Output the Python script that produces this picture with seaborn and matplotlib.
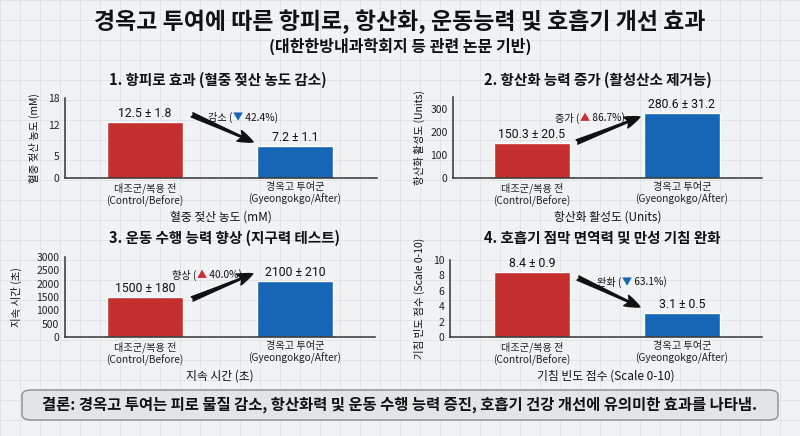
import numpy as np
import pandas as pd
import matplotlib
matplotlib.use("Agg")
import matplotlib.pyplot as plt
import seaborn as sns
from matplotlib.patches import FancyArrowPatch, FancyBboxPatch
from matplotlib.offsetbox import TextArea, HPacker, AnnotationBbox

# data
groups = ["대조군/복용 전\n(Control/Before)", "경옥고 투여군\n(Gyeongokgo/After)"]
lactate_mean = [12.5, 7.2]
lactate_sd = [1.8, 1.1]
antiox_mean = [150.3, 280.6]
antiox_sd = [20.5, 31.2]
endurance_mean = [1500, 2100]
endurance_sd = [180, 210]
cough_mean = [8.4, 3.1]
cough_sd = [0.9, 0.5]

panel_titles = ["1. 항피로 효과 (혈중 젖산 농도 감소)", "2. 항산화 능력 증가 (활성산소 제거능)",
                "3. 운동 수행 능력 향상 (지구력 테스트)", "4. 호흡기 점막 면역력 및 만성 기침 완화"]
axis_labels = ["혈중 젖산 농도 (mM)", "항산화 활성도 (Units)", "지속 시간 (초)", "기침 빈도 점수 (Scale 0-10)"]
change_words = ["감소", "증가", "향상", "완화"]
change_pct = [42.4, 86.7, 40.0, 63.1]
yticks = [[0, 5, 12, 18], [0, 100, 200, 300], [0, 500, 1000, 1500, 2000, 2500, 3000], [0, 2, 4, 6, 8, 10]]
ylims = [18, 350, 3000, 10]

RED = "#c62f30"
BLUE = "#1766b5"
FONT = ["Noto Sans CJK KR", "DejaVu Sans"]

sns.set_theme(style="white")
plt.rcParams["font.family"] = FONT

W, H = 800, 436
fig = plt.figure(figsize=(8, 4.36), dpi=100, facecolor="#f1f2f4")


def px(x, y):
    return x / W, 1 - y / H


# graph-paper background
bg = fig.add_axes([0, 0, 1, 1], zorder=-5)
bg.set_xlim(0, W)
bg.set_ylim(H, 0)
bg.set_facecolor("#f1f2f4")
for g in np.arange(0, W, 20):
    bg.axvline(g, color="#e1e3e7", lw=0.7)
for g in np.arange(0, H, 20):
    bg.axhline(g, color="#e1e3e7", lw=0.7)
bg.axis("off")

fig.text(*px(400, 22), "경옥고 투여에 따른 항피로, 항산화, 운동능력 및 호흡기 개선 효과",
         ha="center", va="center", fontsize=16.5, fontweight="bold", color="#111")
fig.text(*px(400, 46), "(대한한방내과학회지 등 관련 논문 기반)",
         ha="center", va="center", fontsize=11.5, fontweight="bold", color="#111")

# axes boxes: left, right, top, bottom (pixels)
boxes = [(65, 377, 98, 178), (453, 762, 97.5, 178), (65, 375, 257, 337), (450, 762, 260, 337)]
centers = [145, 532, 145, 532]
title_pos = [(218, 80), (598, 80), (224, 238), (602, 238)]
ylabel_x = [40, 425, 22, 425]
means = [lactate_mean, antiox_mean, endurance_mean, cough_mean]
sds = [lactate_sd, antiox_sd, endurance_sd, cough_sd]
fmts = ["{:.1f} ± {:.1f}", "{:.1f} ± {:.1f}", "{:.0f} ± {:.0f}", "{:.1f} ± {:.1f}"]
text_pos = [(0.571, 0.76), (0.443, 0.745), (0.458, 0.775), (0.583, 0.714)]
arrows = [((0.407, 0.79), (0.603, 0.45)), ((0.401, 0.447), (0.605, 0.758)),
          ((0.41, 0.475), (0.606, 0.79)), ((0.41, 0.766), (0.609, 0.39))]

for i in range(4):
    l, r, t, b = boxes[i]
    ax = fig.add_axes([l / W, 1 - b / H, (r - l) / W, (b - t) / H])
    ax.set_facecolor("none")
    df = pd.DataFrame({"group": groups, "value": means[i]})
    sns.barplot(data=df, x="group", y="value", hue="group", palette=[RED, BLUE],
                width=0.51, legend=False, ax=ax, saturation=1)
    ax.set_xlim((l - centers[i]) / 150, (r - centers[i]) / 150)
    ax.set_ylim(0, ylims[i])
    ax.set_yticks(yticks[i])
    ax.tick_params(axis="y", labelsize=7.5, length=2, pad=2, colors="#222")
    ax.tick_params(axis="x", labelsize=7.3, length=0, pad=3, colors="#222")
    for s in ["top", "right"]:
        ax.spines[s].set_visible(False)
    for s in ["left", "bottom"]:
        ax.spines[s].set_color("#333")
        ax.spines[s].set_linewidth(1.1)
    ax.set_xlabel(axis_labels[i], fontsize=8.5, labelpad=3, color="#111", fontweight="medium")
    ax.set_ylabel(axis_labels[i], fontsize=7.5, color="#111", fontweight="medium")
    ax.yaxis.set_label_coords((ylabel_x[i] - l) / (r - l), 0.5)
    for j in range(2):
        ax.annotate(fmts[i].format(means[i][j], sds[i][j]), (j, means[i][j]),
                    xytext=(0, 1.5), textcoords="offset points", ha="center", va="bottom",
                    fontsize=8.8, color="#111", family=["Roboto", "DejaVu Sans"])
    fig.text(*px(*title_pos[i]), panel_titles[i], ha="center", va="center",
             fontsize=10.5, fontweight="bold", color="#111")

    # change annotation
    up = means[i][1] > means[i][0]
    tp = dict(fontsize=7.3, color="#111", family=FONT)
    pieces = [TextArea(change_words[i] + " (", textprops=tp),
              TextArea("▲" if up else "▼", textprops=dict(tp, color=RED if up else BLUE)),
              TextArea(" {:.1f}%)".format(change_pct[i]), textprops=tp)]
    box = HPacker(children=pieces, align="center", pad=0, sep=0)
    ab = AnnotationBbox(box, text_pos[i], xycoords="axes fraction", frameon=False,
                        box_alignment=(0.5, 0.5))
    ax.add_artist(ab)
    a0, a1 = arrows[i]
    arr = FancyArrowPatch(a0, a1, transform=ax.transAxes, color="#111",
                          arrowstyle="fancy,head_length=1.0,head_width=0.75,tail_width=0.3",
                          mutation_scale=11, shrinkA=0, shrinkB=0, clip_on=False)
    ax.add_patch(arr)

# conclusion box
x0, y0 = px(22, 420)
x1, y1 = px(778, 390)
concl = FancyBboxPatch((x0, y0), x1 - x0, y1 - y0, boxstyle="round,pad=0,rounding_size=0.012",
                       transform=fig.transFigure, facecolor="#e3e4e7", edgecolor="#8a8c90",
                       lw=1.0, zorder=1)
fig.patches.append(concl)
fig.text(*px(400, 405), "결론: 경옥고 투여는 피로 물질 감소, 항산화력 및 운동 수행 능력 증진, 호흡기 건강 개선에 유의미한 효과를 나타냄.",
         ha="center", va="center", fontsize=11.1, fontweight="bold", color="#111", zorder=2)

fig.savefig("out.png", dpi=100, facecolor=fig.get_facecolor())
